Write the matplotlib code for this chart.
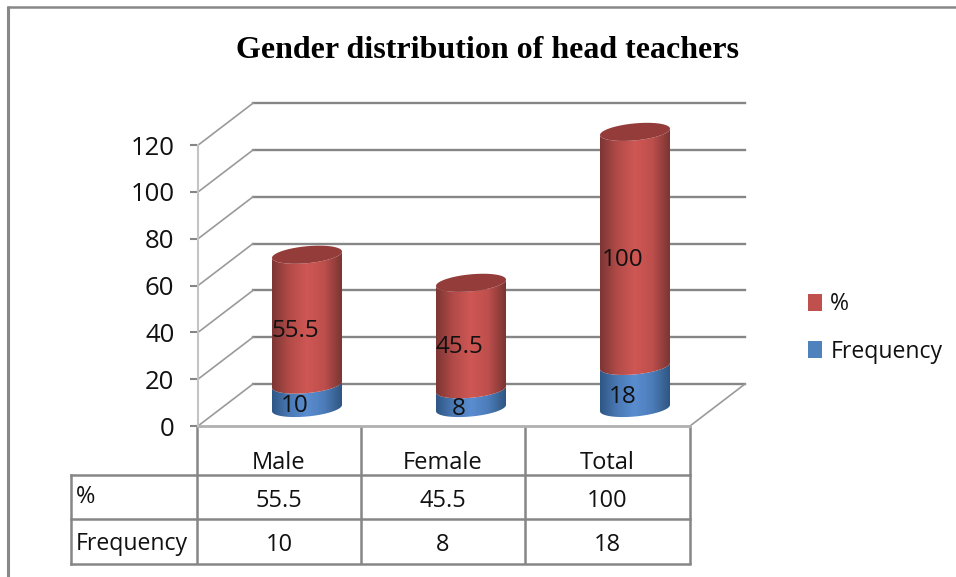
import numpy as np
import matplotlib
matplotlib.use("Agg")
import matplotlib.pyplot as plt
from matplotlib.colors import LinearSegmentedColormap
from matplotlib.patches import Patch, Polygon

categories = ["Male", "Female", "Total"]
frequency = [10, 8, 18]
percent = [55.5, 45.5, 100]
y_ticks = [0, 20, 40, 60, 80, 100, 120]

W, H = 956, 577
GRAY = "#868686"
TXT = "#111111"
plt.rcParams["font.family"] = ["Open Sans", "DejaVu Sans"]

fig = plt.figure(figsize=(W / 100, H / 100), dpi=100, facecolor="white")

# overlay in pixels for frame, title and the table
pg = fig.add_axes([0, 0, 1, 1])
pg.set_xlim(0, W)
pg.set_ylim(H, 0)
pg.axis("off")

ax = fig.add_axes([198 / W, (H - 426) / H, 492 / W, 280.8 / H])
ax.patch.set_alpha(0)
ax.set_xlim(0, 3)
ax.set_ylim(0, 120)
px_x = 3 / 492
px_y = 120 / 280.8

# walls
dx, dy = 55 * px_x, 42 * px_y
for v in y_ticks:
    ax.plot([dx, 3 + dx], [v + dy, v + dy], color=GRAY, lw=1.7, clip_on=False, zorder=1)
    ax.plot([0, dx], [v, v + dy], color="#9a9a9a", lw=1.2, clip_on=False, zorder=1)
ax.plot([3, 3 + dx], [0, dy], color="#9a9a9a", lw=1.2, clip_on=False, zorder=1)
ax.plot([0, 3], [0, 0], color="#b0b0b0", lw=2, clip_on=False, zorder=1)

for s in ["top", "right", "bottom"]:
    ax.spines[s].set_visible(False)
ax.spines["left"].set_color("#c4c4c4")
ax.spines["left"].set_linewidth(1.5)
ax.set_xticks([])
ax.set_yticks(y_ticks)
ax.tick_params(axis="y", length=6, width=1.5, color=GRAY, pad=11, labelsize=18.5, labelcolor=TXT)

# cylinders
red_cm = LinearSegmentedColormap.from_list("r", ["#7c3634", "#b34b48", "#cf5754", "#bd4f4c", "#7a3533"])
blue_cm = LinearSegmentedColormap.from_list("b", ["#2f5785", "#4a7ab5", "#5a8dd0", "#4c7cb8", "#2f5682"])
grad = np.linspace(0, 1, 256).reshape(1, -1)
a = 35 * px_x
b = 8.5 * px_y
tilt = 0.09 * 35 * px_y
t = np.linspace(0, np.pi, 60)


def lower_arc(cx, y):
    return cx - a * np.cos(t), y - b * np.sin(t) - tilt * np.cos(t)


def segment(cx, y0, y1, cm, z):
    x_low, y_low = lower_arc(cx, y0)
    x_up, y_up = lower_arc(cx, y1)
    pts = np.r_[np.c_[x_low, y_low], np.c_[x_up, y_up][::-1]]
    poly = Polygon(pts, closed=True, transform=ax.transData, fc="none", ec="none")
    ax.add_patch(poly)
    im = ax.imshow(grad, cmap=cm, aspect="auto", extent=[cx - a, cx + a, y0 - b - tilt, y1 + b + tilt], zorder=z)
    # the image has to pass the top of the axes for the tall bar
    im.set_clip_box(fig.bbox)
    im.set_clip_path(poly)


base = 18 * px_y
for i, cat in enumerate(categories):
    cx = i + 0.5 + 27 * px_x
    z = 3 + i
    segment(cx, base, base + frequency[i], blue_cm, z)
    segment(cx, base + frequency[i], base + frequency[i] + percent[i], red_cm, z + 0.1)
    top = base + frequency[i] + percent[i]
    tt = np.linspace(0, 2 * np.pi, 120)
    cap = Polygon(np.c_[cx + a * np.cos(tt), top + b * np.sin(tt) + tilt * np.cos(tt)],
                  closed=True, fc="#943c3a", ec="none", zorder=z + 0.2, clip_on=False)
    ax.add_patch(cap)
    lx = cx - 12 * px_x
    ax.text(lx, base + frequency[i] / 2 - 10 * px_y, str(frequency[i]), ha="center", va="center",
            fontsize=17.5, color=TXT, zorder=8, clip_on=False)
    ax.text(lx, base + frequency[i] + percent[i] / 2 - 11 * px_y, str(percent[i]), ha="center", va="center",
            fontsize=17.5, color=TXT, zorder=8, clip_on=False)
ax.set_xlim(0, 3)
ax.set_ylim(0, 120)

# outer frame
pg.plot([8, 8], [6, H], color="#888888", lw=2.2, solid_capstyle="butt")
pg.plot([7, W], [7, 7], color="#888888", lw=1.8, solid_capstyle="butt")

pg.text(488, 50, "Gender distribution of head teachers", ha="center", va="center",
        fontsize=23, fontweight="bold", family=["Liberation Serif"], color="#000000")

# data table
col_x = [197, 361, 525, 690]
row_y = [426, 475, 519, 564]
for x in col_x:
    pg.plot([x, x], [row_y[0], row_y[-1]], color=GRAY, lw=1.8, solid_capstyle="butt")
for y in row_y[1:]:
    pg.plot([71, col_x[-1]], [y, y], color=GRAY, lw=1.8, solid_capstyle="projecting")
pg.plot([71, 71], [row_y[1], row_y[-1]], color=GRAY, lw=1.8)

fs = 17
pg.text(76, 497, "%", ha="left", va="center", fontsize=fs, color=TXT)
pg.text(76, 544, "Frequency", ha="left", va="center", fontsize=16.6, color=TXT)
for i, cat in enumerate(categories):
    xc = (col_x[i] + col_x[i + 1]) / 2
    pg.text(xc, 463, cat, ha="center", va="center", fontsize=fs, color=TXT)
    pg.text(xc, 501, str(percent[i]), ha="center", va="center", fontsize=fs, color=TXT)
    pg.text(xc, 545, str(frequency[i]), ha="center", va="center", fontsize=fs, color=TXT)

handles = [Patch(fc="#c0504d", label="%"), Patch(fc="#4f81bd", label="Frequency")]
fig.legend(handles=handles, loc="center left", bbox_to_anchor=(787 / W, 1 - 328 / H), frameon=False,
           fontsize=16.6, handlelength=0.6, handleheight=0.75, handletextpad=0.38, labelspacing=1.0,
           labelcolor=TXT)

fig.savefig("out.png", dpi=100)
